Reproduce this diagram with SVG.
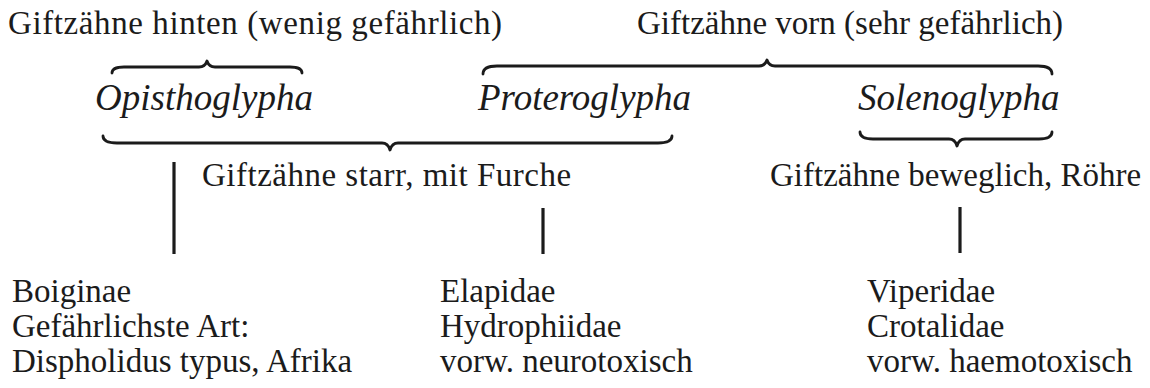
<svg xmlns="http://www.w3.org/2000/svg" width="1150" height="388" viewBox="0 0 1150 388">
<style>
.t{font-family:"Liberation Serif","Times New Roman",serif;font-size:33px;fill:#1b1b1b}
.i{font-family:"Liberation Serif","Times New Roman",serif;font-size:37px;font-style:italic;fill:#1b1b1b}
.br{fill:none;stroke:#1b1b1b;stroke-width:2.8;stroke-linecap:round;stroke-linejoin:round}
.bar{stroke:#1b1b1b;stroke-width:3.2}
</style>
<rect width="1150" height="388" fill="#fff"/>
<g id="connectors">
<path class="br" d="M112,73 Q112,67 124,67 L199,67 Q205,67 207,61 Q209,67 215,67 L290,67 Q302,67 302,73"/>
<path class="br" d="M483,74 Q483,66 497,66 L759,66 Q765,66 767,60 Q769,66 775,66 L1038,66 Q1052,66 1052,74"/>
<path class="br" d="M103,136 Q103,143 117,143 L382,143 Q388,143 390,150 Q392,143 398,143 L658,143 Q672,143 672,136"/>
<path class="br" d="M860,132 Q860,139 873,139 L949,139 Q955,139 957,146 Q959,139 965,139 L1039,139 Q1052,139 1052,132"/>
<line class="bar" x1="174" y1="162" x2="174" y2="254"/>
<line class="bar" x1="543" y1="208" x2="543" y2="254"/>
<line class="bar" x1="960" y1="207" x2="960" y2="253"/>
</g>
<g id="hinten"><text class="t" x="8" y="34" letter-spacing="0.6">Giftzähne hinten (wenig gefährlich)</text></g>
<g id="vorn"><text class="t" x="637" y="34">Giftzähne vorn (sehr gefährlich)</text></g>
<g id="opisthoglypha"><text class="i" x="95" y="110">Opisthoglypha</text></g>
<g id="proteroglypha"><text class="i" x="478" y="110">Proteroglypha</text></g>
<g id="solenoglypha"><text class="i" x="858" y="110">Solenoglypha</text></g>
<g id="starr"><text class="t" x="202" y="186" letter-spacing="0.5">Giftzähne starr, mit Furche</text></g>
<g id="beweglich"><text class="t" x="770" y="186">Giftzähne beweglich, Röhre</text></g>
<g id="boiginae">
<text class="t" x="12" y="302">Boiginae</text>
<text class="t" x="12" y="337">Gefährlichste Art:</text>
<text class="t" x="12" y="372">Dispholidus typus, Afrika</text>
</g>
<g id="elapidae">
<text class="t" x="440" y="302">Elapidae</text>
<text class="t" x="440" y="337">Hydrophiidae</text>
<text class="t" x="440" y="372">vorw. neurotoxisch</text>
</g>
<g id="viperidae">
<text class="t" x="867" y="302">Viperidae</text>
<text class="t" x="867" y="337">Crotalidae</text>
<text class="t" x="867" y="372">vorw. haemotoxisch</text>
</g>
</svg>
